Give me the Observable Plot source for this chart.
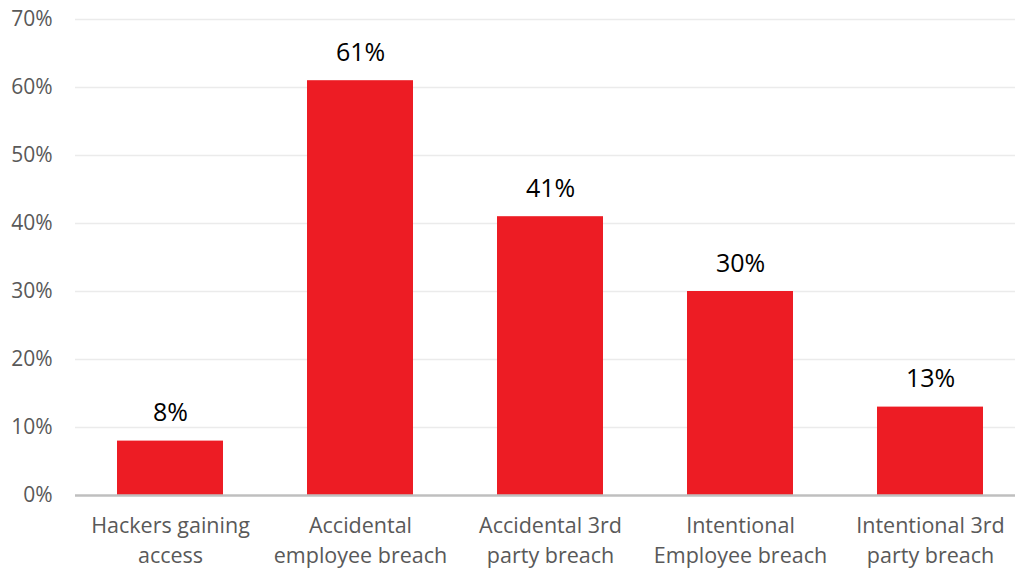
<!DOCTYPE html>
<html><head><meta charset="utf-8">
<script src="https://cdn.jsdelivr.net/npm/d3@7"></script>
<script src="https://cdn.jsdelivr.net/npm/@observablehq/plot@0.6"></script>
<style>html,body{margin:0;padding:0;background:#fff;overflow:hidden}</style>
</head><body><div id="chart"></div>
<script>
const categories = ["Hackers gaining\naccess", "Accidental\nemployee breach", "Accidental 3rd\nparty breach", "Intentional\nEmployee breach", "Intentional 3rd\nparty breach"];
const values = [8, 61, 41, 30, 13];
const yTicks = [0, 10, 20, 30, 40, 50, 60, 70];
const data = categories.map((c, i) => ({category: c, value: values[i]}));
const font = "Open Sans, Noto Sans, sans-serif";
const chart = Plot.plot({
  width: 1015, height: 569,
  marginTop: 19, marginBottom: 74, marginLeft: 75, marginRight: 0,
  style: {fontFamily: font, background: "#fff"},
  x: {domain: categories, range: [75, 1025], paddingInner: 0.44, paddingOuter: 0.22, label: null, axis: null},
  y: {domain: [0, 70], label: null, axis: null},
  marks: [
    Plot.ruleY(yTicks.filter(d => d > 0), {stroke: "#ebebeb", strokeWidth: 1.5}),
    Plot.barY(data, {x: "category", y: "value", fill: "#ed1c24"}),
    Plot.ruleY([0], {stroke: "#bfbfbf", strokeWidth: 2.5}),
    Plot.text(yTicks, {y: d => d, text: d => d + "%", frameAnchor: "left", textAnchor: "end", dx: -23, fontSize: 21, fill: "#595959"}),
    Plot.text(data, {x: "category", y: "value", text: d => d.value + "%", dy: -28, fontSize: 25, fill: "#000"}),
    Plot.text(data, {x: "category", y: 0, text: "category", lineAnchor: "top", dy: 16, fontSize: 21.5, fill: "#595959", lineHeight: 1.4})
  ]
});
document.getElementById("chart").append(chart);
</script></body></html>
